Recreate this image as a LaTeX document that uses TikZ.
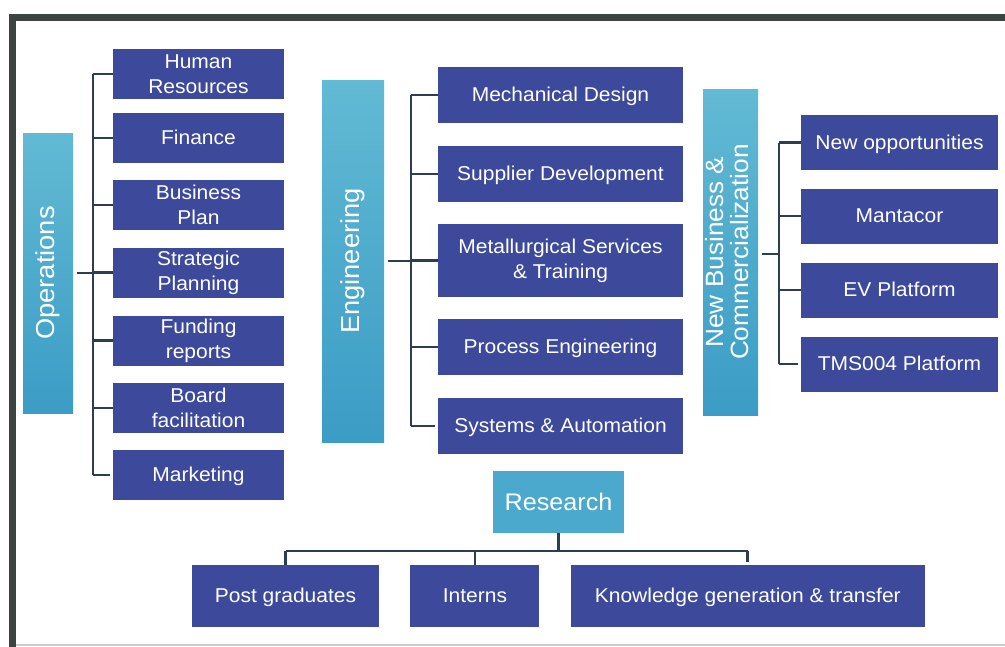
\documentclass[tikz,border=0pt]{standalone}
\usepackage{fontspec}
\setmainfont{Liberation Sans}[FakeStretch=1.05]
\usetikzlibrary{positioning}
\definecolor{boxblue}{HTML}{3D4A9B}
\definecolor{barlight}{HTML}{62BAD4}
\definecolor{bardark}{HTML}{3B9CC5}
\definecolor{resblue}{HTML}{4AA9CC}
\definecolor{linec}{HTML}{2E3E52}
\definecolor{framec}{HTML}{3B4440}
\tikzset{%
  link/.style = {draw=linec,line width=2.8pt},
  b/.style = {rectangle,fill=boxblue,text=white,inner sep=0pt,align=center,
        font=\fontsize{20}{25}\selectfont},
  one/.style = {text height=16.5pt,text depth=3pt},
  h/.style = {rectangle,top color=barlight,bottom color=bardark,text=white,
        inner sep=0pt,font=\fontsize{26}{24}\selectfont},
  opsbox/.style = {b,minimum width=171pt,minimum height=50pt},
  engbox/.style = {b,minimum width=245pt,minimum height=56pt},
  nbbox/.style = {b,one,minimum width=197pt,minimum height=55pt},
  resbox/.style = {b,one,minimum height=62pt}
}
\begin{document}
\begin{tikzpicture}[x=1pt,y=-1pt]
    \useasboundingbox (0,0) rectangle (1005,646);
    \draw[framec,line width=7pt] (12,660) |- (1020,17);
    \draw[gray!40,line width=2pt] (16,645) -- (1005,645);

    \node[h,minimum width=50pt,minimum height=280pt] (ops) at (48,273) {\rotatebox{90}{Operations}};
    \node[opsbox] (hr) at (198.5,74) {Human\\Resources};
    \node[opsbox,one] (fin) at (198.5,138) {Finance};
    \node[opsbox] (bp) at (198.5,205) {Business\\Plan};
    \node[opsbox] (sp) at (198.5,272.5) {Strategic\\Planning};
    \node[opsbox] (fr) at (198.5,340.5) {Funding\\reports};
    \node[opsbox] (bf) at (198.5,408) {Board\\facilitation};
    \node[opsbox,one] (mkt) at (198.5,475) {Marketing};
    \coordinate (obus) at (93,273);
    \draw[link] ([xshift=4pt]ops.east) -- (obus);
    \draw[link] (obus |- hr) -- (obus |- mkt);
    \draw[link,shorten >=3pt] (obus |- hr) -- (hr.west) (obus |- fin) -- (fin.west)
        (obus |- bp) -- (bp.west) (obus |- sp) -- (sp.west) (obus |- fr) -- (fr.west)
        (obus |- bf) -- (bf.west) (obus |- mkt) -- (mkt.west);

    \node[h,minimum width=62pt,minimum height=362pt] (eng) at (353,261) {\rotatebox{90}{Engineering}};
    \node[engbox,one] (md) at (560.5,95) {Mechanical Design};
    \node[engbox,one] (sd) at (560.5,174) {Supplier Development};
    \node[engbox,minimum height=73pt] (ms) at (560.5,260.5) {Metallurgical Services\\\& Training};
    \node[engbox,one] (pe) at (560.5,347) {Process Engineering};
    \node[engbox,one] (sa) at (560.5,426) {Systems \& Automation};
    \coordinate (ebus) at (411,261);
    \draw[link] ([xshift=4pt]eng.east) -- (ebus);
    \draw[link] (ebus |- md) -- (ebus |- sa);
    \draw[link,shorten >=3pt] (ebus |- md) -- (md.west) (ebus |- sd) -- (sd.west)
        (ebus |- ms) -- (ms.west) (ebus |- pe) -- (pe.west) (ebus |- sa) -- (sa.west);

    \node[h,minimum width=55pt,minimum height=326pt,font=\fontsize{25}{24}\selectfont] (nbc) at (730.5,252)
        {\rotatebox{90}{\begin{tabular}{@{}c@{}}New Business \&\\Commercialization\end{tabular}}};
    \node[nbbox] (no) at (899.5,142.5) {New opportunities};
    \node[nbbox] (man) at (899.5,216) {Mantacor};
    \node[nbbox] (ev) at (899.5,290) {EV Platform};
    \node[nbbox] (tms) at (899.5,364) {TMS004 Platform};
    \coordinate (nbus) at (779,254);
    \draw[link] ([xshift=4pt]nbc.east |- nbus) -- (nbus);
    \draw[link] (nbus |- no) -- (nbus |- tms);
    \draw[link,shorten >=3pt] (nbus |- no) -- (no.west) (nbus |- man) -- (man.west)
        (nbus |- ev) -- (ev.west) (nbus |- tms) -- (tms.west);

    \node[rectangle,fill=resblue,text=white,minimum width=131pt,minimum height=62pt,
        font=\fontsize{24}{24}\selectfont] (res) at (558.5,502) {Research};
    \node[resbox,minimum width=187pt] (pg) at (285.5,596) {Post graduates};
    \node[resbox,minimum width=129pt,right=31pt of pg] (int) {Interns};
    \node[resbox,minimum width=354pt,right=31pt of int] (kg) {Knowledge generation \& transfer};
    \coordinate (rbus) at (558.5,551);
    \draw[link] (res.south) -- (rbus);
    \draw[link] (rbus -| pg) -- (rbus -| kg);
    \draw[link,shorten >=3pt] (rbus -| pg) -- (pg.north) (rbus -| int) -- (int.north)
        (rbus -| kg) -- (kg.north);
\end{tikzpicture}
\end{document}
